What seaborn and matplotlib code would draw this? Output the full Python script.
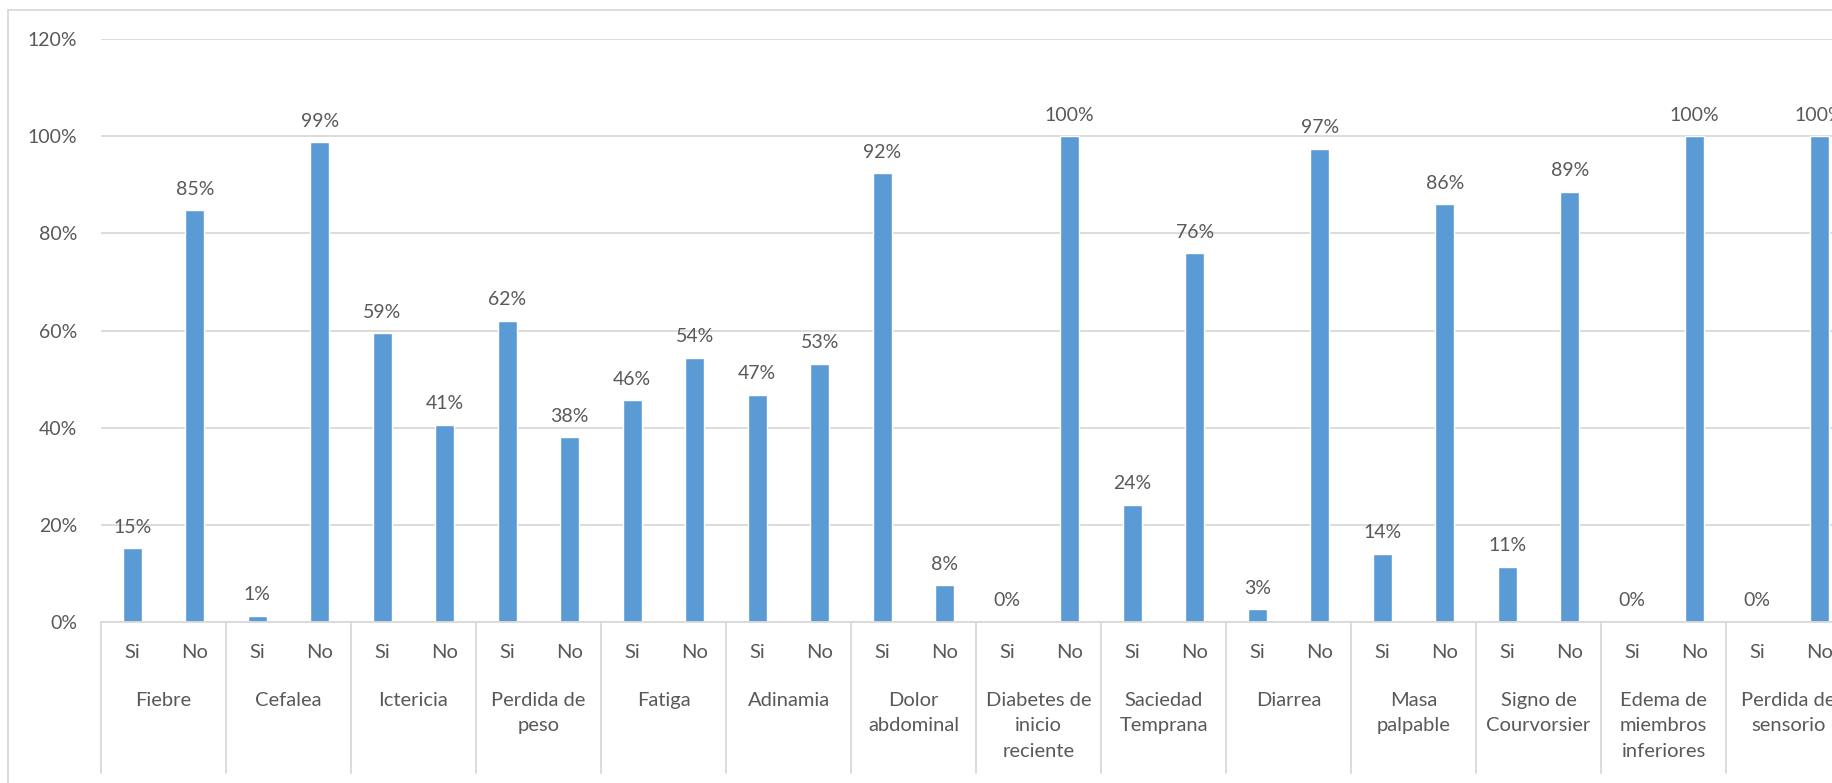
import numpy as np
import pandas as pd
import seaborn as sns
from matplotlib import pyplot as plt
from matplotlib.lines import Line2D


SYMPTOMS = [
    "Fiebre", "Cefalea", "Ictericia", "Perdida de\npeso", "Fatiga", "Adinamia",
    "Dolor\nabdominal", "Diabetes de\ninicio\nreciente", "Saciedad\nTemprana",
    "Diarrea", "Masa\npalpable", "Signo de\nCourvorsier", "Edema de\nmiembros\ninferiores",
    "Perdida de\nsensorio",
]
ANSWERS = ["Si", "No"]
SI_PCT = [15.2, 1.3, 59.4, 62.0, 45.6, 46.8, 92.4, 0.0, 24.1, 2.6, 14.0, 11.4, 0.0, 0.0]
NO_PCT = [84.8, 98.7, 40.6, 38.0, 54.4, 53.2, 7.6, 100.0, 75.9, 97.4, 86.0, 88.6, 100.0, 100.0]
Y_TICKS = [0, 20, 40, 60, 80, 100, 120]

BAR = "#5b9bd5"
TEXT = "#595959"
GRID = "#d9d9d9"


def build_frame() -> pd.DataFrame:
    rows = []
    for i, name in enumerate(SYMPTOMS):
        rows.append({"key": f"{i}-Si", "symptom": name, "answer": "Si", "pct": SI_PCT[i]})
        rows.append({"key": f"{i}-No", "symptom": name, "answer": "No", "pct": NO_PCT[i]})
    return pd.DataFrame(rows)


def main():
    df = build_frame()
    sns.set_theme(style="white")
    plt.rcParams["font.family"] = ["Lato", "DejaVu Sans"]

    W, H = 1832, 783
    fig = plt.figure(figsize=(W / 100, H / 100), dpi=100)
    left, bottom_px, top_px = 101, 622, 39
    n = len(SYMPTOMS)
    right = left + n * 125
    ax = fig.add_axes([left / W, (H - bottom_px) / H, (right - left) / W, (bottom_px - top_px) / H])

    sns.barplot(df, x="key", y="pct", color=BAR, width=0.3, saturation=1, ax=ax)
    ax.set_xlim(-0.5, 2 * n - 0.5)
    ax.set_ylim(0, 120)
    ax.set_yticks(Y_TICKS)
    ax.set_yticklabels([f"{t}%" for t in Y_TICKS])
    ax.tick_params(axis="y", length=0, pad=17, labelsize=14, labelcolor=TEXT)
    ax.set_xticks([])
    ax.set_xlabel("")
    ax.set_ylabel("")
    ax.grid(axis="y", color=GRID, lw=1.3)
    ax.set_axisbelow(True)
    for s in ["top", "right", "left"]:
        ax.spines[s].set_visible(False)
    ax.spines["bottom"].set_color(GRID)
    ax.spines["bottom"].set_linewidth(1.3)

    for c in ax.containers:
        ax.bar_label(c, fmt="{:.0f}%", padding=9, fontsize=14, color=TEXT)

    trans = ax.get_xaxis_transform()
    axh = bottom_px - top_px
    for j, row in df.iterrows():
        ax.text(j, -31 / axh, row["answer"], transform=trans, ha="center", va="center",
                fontsize=14.5, color=TEXT)
    for i, name in enumerate(SYMPTOMS):
        ax.text(2 * i + 0.5, -70 / axh, name, transform=trans, ha="center", va="top",
                fontsize=14.5, color=TEXT, linespacing=1.6)
    for i in range(n + 1):
        ax.plot([2 * i - 0.5, 2 * i - 0.5], [0, -151 / axh], transform=trans,
                color=GRID, lw=1.3, clip_on=False)

    # outer chart border (top and left edges only are inside the crop)
    fig.add_artist(Line2D([8 / W, 1.0], [1 - 10 / H, 1 - 10 / H], color=GRID, lw=1.3))
    fig.add_artist(Line2D([8 / W, 8 / W], [0, 1 - 10 / H], color=GRID, lw=1.3))

    fig.savefig("out.png", dpi=100)
    plt.close(fig)


if __name__ == "__main__":
    main()
